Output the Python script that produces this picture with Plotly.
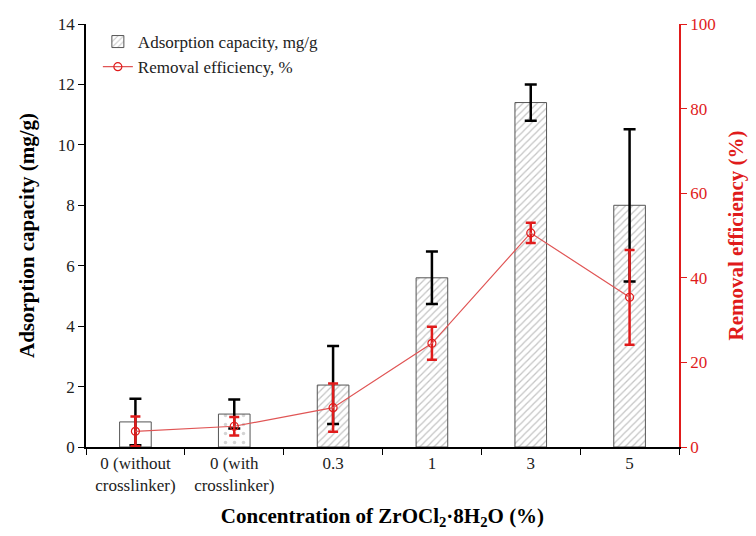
import plotly.graph_objects as go

categories = ["0 (without<br>crosslinker)", "0 (with<br>crosslinker)", "0.3", "1", "3", "5"]
capacity = [0.83, 1.09, 2.05, 5.6, 11.4, 8.0]
capacity_err = [0.77, 0.48, 1.29, 0.87, 0.6, 2.52]
efficiency = [3.7, 4.9, 9.3, 24.5, 50.6, 35.4]
efficiency_err = [3.5, 2.2, 5.7, 3.9, 2.4, 11.2]
patterns = ["", ".", "/", "/", "/", "/"]

FONT = "Liberation Serif"
RED = "#e01b1b"

fig = go.Figure()

# legend-only proxy for the bars
fig.add_trace(go.Bar(
    x=[categories[0]], y=[None], name="Adsorption capacity, mg/g",
    marker=dict(color="white", line=dict(color="#555555", width=1),
                pattern=dict(shape="/", fgcolor="#888888", bgcolor="white", size=5, solidity=0.25)),
    showlegend=True, width=0.32,
))

fig.add_trace(go.Bar(
    x=categories, y=capacity, showlegend=False, width=0.32,
    marker=dict(color="white", line=dict(color="#555555", width=1),
                pattern=dict(shape=patterns,
                             fgcolor=["#8a8a8a", "#aaaaaa", "#8a8a8a", "#8a8a8a", "#8a8a8a", "#8a8a8a"],
                             bgcolor="white",
                             size=[5, 9, 5, 5, 5, 5],
                             solidity=[0.25, 0.12, 0.25, 0.25, 0.25, 0.25])),
    error_y=dict(type="data", array=capacity_err, color="black", thickness=2.5, width=6),
))

fig.add_trace(go.Scatter(
    x=categories, y=efficiency, yaxis="y2", name="Removal efficiency, %",
    mode="lines+markers",
    line=dict(color="#e05555", width=1.2),
    marker=dict(symbol="circle-open", size=8, color=RED, line=dict(width=1.2)),
    error_y=dict(type="data", array=efficiency_err, color=RED, thickness=2.5, width=5),
))

fig.update_layout(
    width=756, height=536,
    margin=dict(l=86, r=72, t=24, b=88),
    paper_bgcolor="white", plot_bgcolor="white",
    barmode="overlay",
    font=dict(family=FONT, size=17, color="#222222"),
    legend=dict(x=0.02, y=1.0, xanchor="left", yanchor="top",
                bgcolor="rgba(0,0,0,0)", font=dict(size=17, family=FONT),
                tracegroupgap=2),
    xaxis=dict(
        type="category", showline=True, linecolor="black", linewidth=1.5,
        ticks="outside", tickson="boundaries", ticklen=6, tickcolor="black",
        tickfont=dict(size=17, family=FONT),
        title=dict(text="<b>Concentration of ZrOCl<sub>2</sub>·8H<sub>2</sub>O (%)</b>",
                   font=dict(size=21, family=FONT, color="black"), standoff=14),
        showgrid=False, zeroline=False,
    ),
    yaxis=dict(
        range=[0, 14], dtick=2, showline=True, linecolor="black", linewidth=1.5,
        ticks="outside", ticklen=6, tickcolor="black", showgrid=False, zeroline=False,
        tickfont=dict(size=17, family=FONT),
        title=dict(text="<b>Adsorption capacity (mg/g)</b>",
                   font=dict(size=21, family=FONT, color="black"), standoff=17),
    ),
    yaxis2=dict(
        overlaying="y", side="right", range=[0, 100], dtick=20,
        showline=True, linecolor=RED, linewidth=1.5,
        ticks="outside", ticklen=6, tickcolor=RED, showgrid=False, zeroline=False,
        tickfont=dict(size=17, family=FONT, color=RED),
        title=dict(text="<b>Removal efficiency (%)</b>",
                   font=dict(size=21, family=FONT, color=RED), standoff=14),
    ),
)

fig.write_html("out.html", config={"displayModeBar": False},
               post_script="document.body.style.margin='0px';")
